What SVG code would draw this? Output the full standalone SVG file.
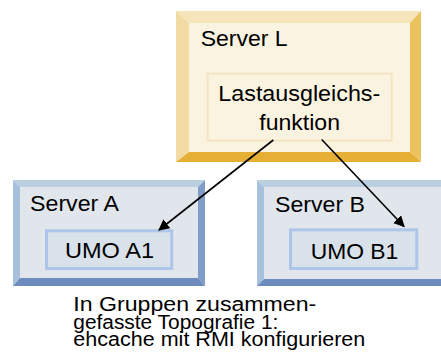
<svg xmlns="http://www.w3.org/2000/svg" width="441" height="362" viewBox="0 0 441 362">
<style>
text{font-family:"Liberation Sans",Arial,sans-serif;font-size:22.5px;fill:#000}
.cap{font-size:20px}
.gt{fill:#f6e5b8}.gl{fill:#f2dca4}.gr{fill:#ebc25e}.gb{fill:#e5ae34}.gf{fill:#faf3e0}
.bt{fill:#bad0e0}.bl{fill:#a7c0dc}.br{fill:#7f9dc8}.bb{fill:#6d8bbd}.bf{fill:#e1e6ec}
.inL{fill:#faf3e0;stroke:#f4e5c2;stroke-width:2}
.umo{fill:#d9e1ea;stroke:#aec5ea;stroke-width:3}
.conn{stroke:#000;stroke-width:1.6;fill:none;marker-end:url(#ah)}
</style>
<defs>
<marker id="ah" viewBox="0 0 10 10" refX="9" refY="5" markerWidth="7" markerHeight="7" markerUnits="strokeWidth" orient="auto">
<path d="M0,0 L10,5 L0,10 z" fill="#000"/>
</marker>
</defs>
<g id="serverL">
<rect class="gf" x="189" y="23" width="221" height="129"/>
<polygon class="gt" points="176,11 421,11 410,23 189,23"/>
<polygon class="gl" points="176,11 189,23 189,152 176,162"/>
<polygon class="gr" points="421,11 421,162 410,152 410,23"/>
<polygon class="gb" points="176,162 189,152 410,152 421,162"/>
<text x="200.7" y="45.7" textLength="87" lengthAdjust="spacingAndGlyphs">Server L</text>
</g>
<g id="lastausgleich">
<rect class="inL" x="207.7" y="73.7" width="184" height="67"/>
<text x="218.3" y="101" textLength="162" lengthAdjust="spacingAndGlyphs">Lastausgleichs-</text>
<text x="259.3" y="130" textLength="80.7" lengthAdjust="spacingAndGlyphs">funktion</text>
</g>
<g id="serverA">
<rect class="bf" x="20" y="187" width="178" height="91"/>
<polygon class="bt" points="13,180 205,180 198,187 20,187"/>
<polygon class="bl" points="13,180 20,187 20,278 13,286"/>
<polygon class="br" points="205,180 205,286 198,278 198,187"/>
<polygon class="bb" points="13,286 20,278 198,278 205,286"/>
<text x="30" y="210.7" textLength="89" lengthAdjust="spacingAndGlyphs">Server A</text>
</g>
<g id="umoA1">
<rect class="umo" x="46.5" y="230.8" width="125.3" height="37.7"/>
<text x="65" y="258.3" textLength="89" lengthAdjust="spacingAndGlyphs">UMO A1</text>
</g>
<g id="serverB">
<rect class="bf" x="264" y="187" width="178" height="92"/>
<polygon class="bt" points="257,180 449,180 442,187 264,187"/>
<polygon class="bl" points="257,180 264,187 264,279 257,286"/>
<polygon class="br" points="449,180 449,286 442,279 442,187"/>
<polygon class="bb" points="257,286 264,279 442,279 449,286"/>
<text x="275" y="211.7" textLength="90" lengthAdjust="spacingAndGlyphs">Server B</text>
</g>
<g id="umoB1">
<rect class="umo" x="290.5" y="229.8" width="126.3" height="38.7"/>
<text x="310.7" y="259.3" textLength="87.6" lengthAdjust="spacingAndGlyphs">UMO B1</text>
</g>
<g id="connectors">
<line class="conn" x1="273.3" y1="140" x2="159" y2="230"/>
<line class="conn" x1="321.7" y1="139.5" x2="404" y2="226.5"/>
</g>
<g id="caption">
<text class="cap" x="73.3" y="311" textLength="243" lengthAdjust="spacingAndGlyphs">In Gruppen zusammen-</text>
<text class="cap" x="73.3" y="328.5" textLength="205" lengthAdjust="spacingAndGlyphs">gefasste Topografie 1:</text>
<text class="cap" x="73.3" y="346" textLength="292" lengthAdjust="spacingAndGlyphs">ehcache mit RMI konfigurieren</text>
</g>
</svg>
